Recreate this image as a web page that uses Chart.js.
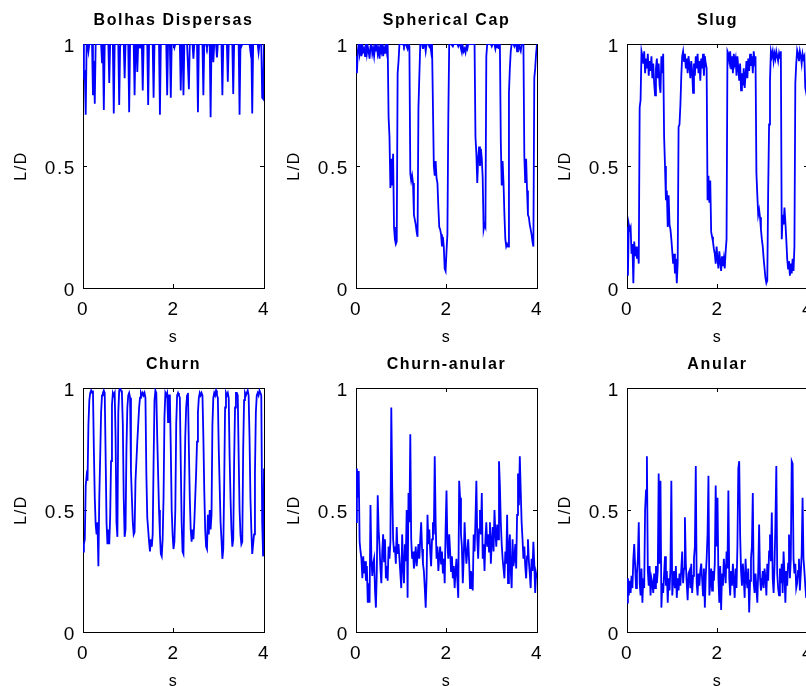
<!DOCTYPE html>
<html>
<head>
<meta charset="utf-8">
<script src="https://cdn.jsdelivr.net/npm/chart.js"></script>
<style>
  body { margin: 0; width: 806px; height: 686px; overflow: hidden; position: relative; background: #fff; }
  canvas { position: absolute; }
</style>
</head>
<body>
<canvas id="g0" width="347" height="352" style="left:0px;top:0px"></canvas>
<canvas id="g1" width="347" height="352" style="left:273px;top:0px"></canvas>
<canvas id="g2" width="347" height="352" style="left:544px;top:0px"></canvas>
<canvas id="g3" width="347" height="352" style="left:0px;top:344px"></canvas>
<canvas id="g4" width="347" height="352" style="left:273px;top:344px"></canvas>
<canvas id="g5" width="347" height="352" style="left:544px;top:344px"></canvas>
<script>
// L/D amostrado a cada 0.02 s, de 0 a 4 s (201 amostras por regime)
var passo = 0.02;
var titulos = ["Bolhas Dispersas", "Spherical Cap", "Slug", "Churn", "Churn-anular", "Anular"];
var ticksX = [0, 2, 4];
var ticksY = [0, 0.5, 1];

var bolhasDispersas = [
  1, 0.87, 0.88, 0.71, 1, 1, 0.97, 1, 1, 1, 1, 0.79, 0.93, 0.755, 1, 1, 1, 1, 1, 1,
  1, 0.925, 1, 0.73, 1, 1, 1, 1, 1, 0.84, 1, 1, 1, 1, 0.715, 1, 1, 1, 1, 1,
  0.75, 0.99, 1, 1, 1, 1, 0.86, 1, 1, 1, 1, 0.72, 1, 1, 1, 1, 1, 0.79, 1, 1,
  0.885, 1, 1, 0.985, 1, 1, 0.81, 1, 1, 1, 1, 1, 0.75, 1, 1, 1, 1, 1, 0.78, 1,
  1, 1, 1, 1, 1, 0.71, 1, 1, 1, 1, 1, 1, 1, 0.79, 1, 1, 1, 0.78, 1, 1,
  1, 0.985, 1, 1, 1, 1, 1, 1, 0.81, 1, 1, 0.79, 1, 1, 1, 1, 1, 0.815, 1, 1,
  1, 1, 0.94, 1, 1, 1, 1, 0.72, 1, 1, 1, 1, 1, 0.79, 1, 1, 1, 0.985, 1, 1,
  1, 0.70, 1, 1, 0.925, 1, 1, 1, 0.945, 1, 1, 1, 1, 1, 0.79, 1, 1, 1, 1, 1,
  0.845, 1, 1, 1, 1, 1, 0.795, 1, 1, 1, 1, 1, 1, 0.71, 1, 0.99, 1, 1, 1, 1,
  1, 1, 1, 1, 1, 0.97, 1, 0.715, 1, 1, 1, 1, 1, 1, 0.965, 1, 1, 1, 0.78, 0.775,
  1
];

var sphericalCap = [
  0.95, 0.88, 0.97, 1, 0.96, 0.99, 0.95, 1, 0.97, 0.98, 0.95, 1, 0.96, 0.99, 0.97, 0.94, 0.99, 1, 0.96, 0.98,
  0.95, 0.99, 0.97, 1, 0.96, 0.98, 0.94, 0.99, 0.97, 1, 0.95, 0.98, 0.96, 1, 0.97, 1,
  0.70, 0.62, 0.41, 0.53, 0.42, 0.55, 0.25, 0.20, 0.18, 0.19, 0.88, 0.93, 1,
  1, 1, 1, 1, 0.99, 1, 1, 0.99, 0.98, 1,
  0.99, 0.47, 0.44, 0.46, 0.43, 0.30, 0.28, 0.26, 0.23, 0.21, 0.74, 0.87, 1,
  1, 1, 0.98, 1, 1, 0.97, 1, 1, 1, 0.99, 1, 0.97, 1, 1,
  0.50, 0.46, 0.52, 0.45, 0.43, 0.33, 0.25, 0.24, 0.22, 0.17, 0.21, 0.17, 0.08, 0.07, 0.15, 0.22, 0.70, 1,
  1, 1, 1, 0.99, 1, 1, 1, 1, 1, 0.99, 1, 1, 0.98, 0.965, 0.99, 0.97, 0.98, 0.965, 0.99, 0.98, 1, 1, 1, 1, 1, 1, 1, 1,
  0.62, 0.55, 0.43, 0.53, 0.58, 0.50, 0.57, 0.53, 0.45, 0.24, 0.26, 0.25, 0.95, 1,
  1, 1, 1, 1, 0.99, 1, 1, 1, 0.98, 1, 0.99, 1, 0.98, 1,
  0.60, 0.42, 0.52, 0.43, 0.30, 0.20, 0.17, 0.18, 0.17, 0.80, 0.90, 0.97, 1,
  1, 1, 0.99, 1, 1, 0.97, 1, 1, 0.98, 0.97, 1, 1, 1,
  0.54, 0.43, 0.53, 0.40, 0.30, 0.29, 0.26, 0.24, 0.22, 0.19, 0.17, 0.86, 0.90, 0.96, 1
];

var slug = [
  0.25, 0.05, 0.26, 0.24, 0.25, 0.14, 0.18, 0.02, 0.19, 0.13, 0.17, 0.12, 0.16, 0.10, 0.74, 0.77, 0.97,
  0.95, 0.92, 0.97, 0.88, 0.94, 0.90, 0.96, 0.87, 0.93, 0.89, 0.95, 0.86, 0.92, 0.84, 0.79, 0.90, 0.94, 0.86, 0.92, 0.83, 0.80, 0.95, 0.88, 0.96,
  0.62, 0.50, 0.36, 0.40, 0.25, 0.38, 0.26, 0.24, 0.20, 0.15, 0.10, 0.14, 0.06, 0.12, 0.02, 0.10, 0.66, 0.67, 0.75, 0.87, 0.95,
  0.97, 0.93, 0.96, 0.90, 0.94, 0.88, 0.95, 0.91, 0.86, 0.93, 0.89, 0.80, 0.92, 0.87, 0.95, 0.90, 0.96, 0.88, 0.93, 0.85, 0.94, 0.90, 0.96, 0.87, 0.95, 0.92, 0.90,
  0.36, 0.46, 0.35, 0.44, 0.23, 0.21, 0.19, 0.16, 0.14, 0.10, 0.17, 0.12, 0.08, 0.15, 0.11, 0.07, 0.13, 0.09, 0.12, 0.08, 0.15, 0.20, 0.97,
  0.96, 0.93, 0.97, 0.90, 0.95, 0.88, 0.96, 0.92, 0.94, 0.87, 0.95, 0.90, 0.85, 0.92, 0.81, 0.88, 0.83, 0.90, 0.82, 0.87, 0.93, 0.86, 0.94, 0.89, 0.96, 0.91, 0.95, 0.88, 0.97, 0.93, 0.95,
  0.47, 0.38, 0.30, 0.32, 0.29, 0.24, 0.20, 0.17, 0.12, 0.08, 0.04, 0.02, 0.03, 0.40, 0.67, 0.85, 0.97,
  0.95, 0.97, 0.93, 0.96, 0.94, 0.97, 0.95, 0.93, 0.96, 0.94, 0.97,
  0.20, 0.30, 0.26, 0.33, 0.27, 0.20, 0.12, 0.08, 0.11, 0.05, 0.10, 0.06, 0.12, 0.07, 0.17, 0.84, 0.92, 0.975,
  0.96, 0.93, 0.97, 0.95, 0.92, 0.96, 0.94, 0.95, 0.82, 0.80, 0.85, 0.90
];

var churn = [
  0.33, 0.36, 0.38, 0.60, 0.64, 0.62, 0.85, 0.95, 0.98, 0.99, 0.98, 0.99,
  0.75, 0.55, 0.44, 0.40, 0.45, 0.27,
  0.55, 0.72, 0.90, 0.97, 0.98, 0.99, 0.98,
  0.72, 0.45, 0.36, 0.42, 0.36, 0.47,
  0.70, 0.93, 0.98, 0.97, 0.98,
  0.80, 0.45, 0.39,
  0.90, 0.99, 1.0, 0.99, 0.98,
  0.85, 0.55, 0.39, 0.42,
  0.75, 0.92, 0.97, 0.98, 0.96,
  0.66, 0.55, 0.45, 0.40, 0.41,
  0.62, 0.70, 0.78, 0.85, 0.92,
  0.96, 0.98, 0.97, 0.98, 0.97, 0.98, 0.96,
  0.65, 0.47, 0.42, 0.37, 0.33, 0.38, 0.35,
  0.40, 0.70, 0.95, 0.99, 0.98,
  0.80, 0.65, 0.50, 0.40, 0.32, 0.31,
  0.38, 0.55, 0.88, 0.98, 0.97, 0.98, 0.86, 0.97, 0.97,
  0.75, 0.50, 0.40, 0.34, 0.37,
  0.50, 0.85, 0.97, 0.98, 0.97, 0.96,
  0.70, 0.45, 0.33, 0.32,
  0.58, 0.80, 0.92, 0.97, 0.98,
  0.75, 0.55, 0.42, 0.37, 0.42, 0.38, 0.45, 0.55, 0.65, 0.78, 0.90, 0.96, 0.98, 0.97, 0.98, 0.97, 0.80, 0.58, 0.42, 0.35, 0.34,
  0.48, 0.40, 0.50, 0.42, 0.48, 0.85, 0.96, 0.98, 0.97, 0.99, 0.97, 0.96,
  0.75, 0.60, 0.45, 0.38, 0.30, 0.34, 0.60, 0.92, 0.98, 0.97, 0.98, 0.96,
  0.72, 0.55, 0.42, 0.35, 0.38, 0.70, 0.92, 0.98, 0.98, 0.97,
  0.72, 0.50, 0.40, 0.36, 0.37, 0.75, 0.95, 0.98, 0.97, 0.98, 0.99, 0.97,
  0.80, 0.55, 0.42, 0.32, 0.36, 0.40, 0.65, 0.90, 0.97, 0.98, 0.97, 0.99, 0.98, 0.97,
  0.45, 0.31, 0.67
];

var churnAnular = [
  0.45, 0.67, 0.55, 0.66, 0.37, 0.33, 0.30, 0.22, 0.31, 0.24,
  0.29, 0.21, 0.27, 0.12, 0.20, 0.12, 0.52, 0.30, 0.23, 0.28,
  0.30, 0.17, 0.10, 0.25, 0.56, 0.42, 0.35, 0.26, 0.20, 0.33,
  0.40, 0.29, 0.38, 0.22, 0.27, 0.21, 0.35, 0.30, 0.37, 0.92,
  0.60, 0.38, 0.33, 0.35, 0.28, 0.43, 0.32, 0.36, 0.30, 0.24,
  0.18, 0.40, 0.27, 0.20, 0.36, 0.29, 0.50, 0.14, 0.57, 0.45,
  0.81, 0.38, 0.30, 0.33, 0.26, 0.30, 0.35, 0.27, 0.31, 0.36,
  0.30, 0.38, 0.45, 0.34, 0.28, 0.25, 0.18, 0.10, 0.22, 0.48,
  0.36, 0.42, 0.33, 0.27, 0.38, 0.45, 0.40, 0.72, 0.45, 0.30,
  0.35, 0.25, 0.31, 0.35, 0.28, 0.33, 0.24, 0.30, 0.20, 0.42,
  0.58, 0.36, 0.30, 0.40, 0.33, 0.25, 0.31, 0.22, 0.27, 0.18,
  0.25, 0.30, 0.21, 0.14, 0.62, 0.55, 0.40, 0.35, 0.20, 0.30,
  0.45, 0.35, 0.28, 0.33, 0.38, 0.29, 0.18, 0.25, 0.22, 0.17,
  0.40, 0.33, 0.46, 0.62, 0.38, 0.30, 0.42, 0.50, 0.40, 0.57,
  0.30, 0.36, 0.25, 0.38, 0.45, 0.35, 0.40, 0.33, 0.45, 0.28,
  0.37, 0.43, 0.33, 0.50, 0.41, 0.35, 0.44, 0.38, 0.70, 0.60,
  0.45, 0.36, 0.30, 0.26, 0.22, 0.33, 0.28, 0.48, 0.20, 0.35,
  0.40, 0.25, 0.18, 0.38, 0.27, 0.30, 0.36, 0.26, 0.48, 0.65,
  0.52, 0.72, 0.58, 0.45, 0.38, 0.30, 0.35, 0.27, 0.22, 0.31,
  0.38, 0.29, 0.24, 0.18, 0.30, 0.25, 0.37, 0.28, 0.16, 0.24,
  0.22
];

var anular = [
  0.12, 0.22, 0.15, 0.21, 0.16, 0.23, 0.18, 0.30, 0.36, 0.27,
  0.18, 0.24, 0.30, 0.45, 0.20, 0.15, 0.26, 0.12, 0.22, 0.18,
  0.50, 0.58, 0.72, 0.25, 0.19, 0.27, 0.15, 0.22, 0.20, 0.16,
  0.24, 0.18, 0.27, 0.20, 0.25, 0.65, 0.28, 0.62, 0.10, 0.20,
  0.16, 0.24, 0.31, 0.19, 0.25, 0.12, 0.22, 0.17, 0.26, 0.62,
  0.15, 0.21, 0.25, 0.18, 0.27, 0.14, 0.22, 0.17, 0.24, 0.19,
  0.26, 0.33, 0.20, 0.26, 0.47, 0.28, 0.20, 0.13, 0.24, 0.25,
  0.18, 0.28, 0.16, 0.23, 0.30, 0.35, 0.68, 0.20, 0.15, 0.24,
  0.19, 0.25, 0.28, 0.22, 0.15, 0.26, 0.10, 0.23, 0.30, 0.40,
  0.64, 0.15, 0.20, 0.26, 0.17, 0.25, 0.21, 0.28, 0.60, 0.35,
  0.55, 0.22, 0.12, 0.27, 0.09, 0.24, 0.19, 0.30, 0.25, 0.20,
  0.33, 0.26, 0.58, 0.22, 0.15, 0.25, 0.19, 0.28, 0.21, 0.14,
  0.26, 0.18, 0.35, 0.67, 0.70, 0.40, 0.25, 0.19, 0.28, 0.22,
  0.14, 0.30, 0.22, 0.18, 0.26, 0.08, 0.21, 0.30, 0.35, 0.57,
  0.20, 0.16, 0.24, 0.18, 0.12, 0.25, 0.44, 0.22, 0.17, 0.20,
  0.25, 0.18, 0.26, 0.22, 0.15, 0.28, 0.21, 0.33, 0.40, 0.29,
  0.49, 0.22, 0.16, 0.27, 0.45, 0.68, 0.24, 0.18, 0.15, 0.26,
  0.20, 0.28, 0.16, 0.33, 0.24, 0.12, 0.25, 0.19, 0.28, 0.40,
  0.22, 0.30, 0.70, 0.69, 0.30, 0.24, 0.28, 0.18, 0.20, 0.25,
  0.30, 0.17, 0.24, 0.32, 0.55, 0.30, 0.25, 0.19, 0.14, 0.22,
  0.18
];

var series = [bolhasDispersas, sphericalCap, slug, churn, churnAnular, anular];

Chart.defaults.font.family = "'Liberation Sans', Arial, sans-serif";
Chart.defaults.color = "#000";

// texto do MATLAB sai um pouco espaçado
var espacamento = {
  id: "espacamento",
  beforeDraw: function(chart) { chart.ctx.letterSpacing = "1.6px"; }
};

function marcas(valores) {
  return function(scale) {
    scale.ticks = valores.map(function(v) { return { value: v }; });
  };
}

var grade = { drawOnChartArea: false, drawTicks: true, tickLength: -4, color: "#000", lineWidth: 1 };
var borda = { display: true, color: "#000", width: 1 };

series.forEach(function(valores, k) {
  var pontos = valores.map(function(v, i) { return { x: i * passo, y: v }; });
  var ctx = document.getElementById("g" + k).getContext("2d");
  new Chart(ctx, {
    type: "line",
    data: {
      datasets: [{
        data: pontos,
        borderColor: "#0000ff",
        borderWidth: 1.8,
        pointRadius: 0,
        tension: 0,
        fill: false
      }]
    },
    options: {
      responsive: false,
      animation: false,
      devicePixelRatio: 1,
      events: [],
      layout: { padding: 0 },
      plugins: {
        legend: { display: false },
        tooltip: { enabled: false },
        title: {
          display: true,
          text: titulos[k],
          color: "#000",
          font: { size: 16, weight: "bold", lineHeight: 1.25 },
          padding: { top: 10.7, bottom: 13.3 }
        }
      },
      scales: {
        x: {
          type: "linear", position: "bottom", min: 0, max: 4,
          afterBuildTicks: marcas(ticksX),
          afterFit: function(s) { s.height = 64; },
          grid: grade, border: borda,
          ticks: { font: { size: 19 }, padding: 14, maxRotation: 0, callback: function(v) { return String(v); } },
          title: { display: true, text: "s", font: { size: 16 }, padding: { top: 0, bottom: 5 } }
        },
        y: {
          type: "linear", position: "left", min: 0, max: 1,
          afterBuildTicks: marcas(ticksY),
          afterFit: function(s) { s.width = 83; },
          grid: grade, border: borda,
          ticks: { font: { size: 19 }, padding: 11, labelOffset: 3, callback: function(v) { return String(v); } },
          title: { display: true, text: "L/D", font: { size: 16 }, padding: { top: 12, bottom: 0 } }
        },
        x2: {
          type: "linear", position: "top", min: 0, max: 4,
          afterBuildTicks: marcas(ticksX),
          afterFit: function(s) { s.height = 0; },
          grid: grade, border: borda,
          ticks: { display: false }
        },
        y2: {
          type: "linear", position: "right", min: 0, max: 1,
          afterBuildTicks: marcas(ticksY),
          afterFit: function(s) { s.width = 83; },
          grid: grade, border: borda,
          ticks: { display: false }
        }
      }
    },
    plugins: [espacamento]
  });
});
</script>
</body>
</html>
